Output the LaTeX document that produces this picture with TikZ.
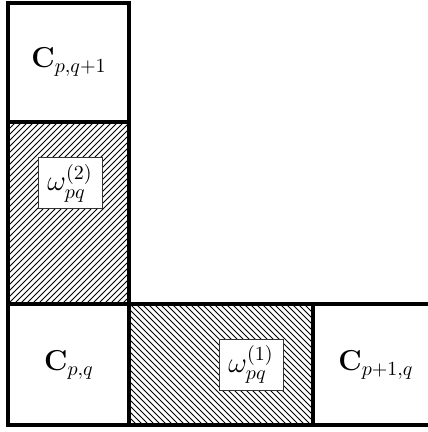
\documentclass[tikz,border=0pt]{standalone}
\usetikzlibrary{patterns}
\begin{document}
\begin{tikzpicture}[x=0.5pt,y=-0.5pt,
  cell/.style={draw=black,line width=2pt},
  lab/.style={font=\Large},
  wbox/.style={draw=black!80,fill=white,line width=0.5pt,inner sep=0pt,minimum width=32pt,minimum height=25.5pt,font=\Large}]
\useasboundingbox (0,0) rectangle (427,432);
\fill[pattern=north east lines] (8,122) rectangle (129,304);
\fill[pattern=north west lines] (129,304) rectangle (313,425);
\draw[cell] (8,3) rectangle (129,122);
\draw[cell] (8,122) rectangle (129,304);
\draw[cell] (8,304) rectangle (129,425);
\draw[cell] (129,304) rectangle (313,425);
\coordinate (r1) at (428,304);
\coordinate (r2) at (428,425);
\coordinate (m1) at (313,304);
\coordinate (m2) at (313,425);
\draw[cell] (m1) -- (r1);
\draw[cell] (m2) -- (r2);
\node[lab] (c1) at (69,62) {$\mathbf{C}_{p,q+1}$};
\node[lab] (c2) at (69,365) {$\mathbf{C}_{p,q}$};
\node[lab] (c3) at (376,365) {$\mathbf{C}_{p+1,q}$};
\node[wbox] (w2) at (70,183) {$\displaystyle\omega_{pq}^{(2)}$};
\node[wbox] (w1) at (251,364.5) {$\displaystyle\omega_{pq}^{(1)}$};
\end{tikzpicture}
\end{document}
